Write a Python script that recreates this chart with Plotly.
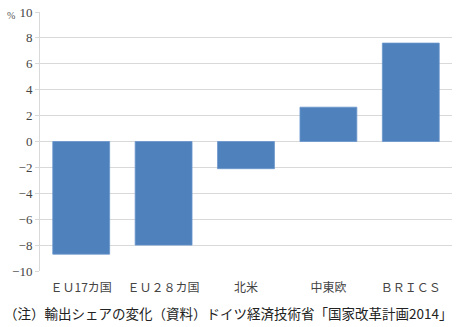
import plotly.graph_objects as go

categories = ["ＥＵ17カ国", "ＥＵ２８カ国", "北米", "中東欧", "ＢＲＩＣＳ"]
values = [-8.7, -8.0, -2.1, 2.65, 7.6]
tick_vals = [-10, -8, -6, -4, -2, 0, 2, 4, 6, 8, 10]
tick_text = ["−10", "−8", "−6", "−4", "−2", "0", "2", "4", "6", "8", "10"]
caption = "（注）輸出シェアの変化（資料）ドイツ経済技術省「国家改革計画2014」"

font_family = "Liberation Serif, Noto Sans CJK JP, serif"

fig = go.Figure(go.Bar(
    x=categories, y=values,
    marker=dict(color="#4f81bd", line=dict(color="#6a95cc", width=0.8)),
    width=0.69,
))

fig.update_layout(
    width=457, height=327,
    margin=dict(l=40, r=5, t=8, b=56),
    paper_bgcolor="white", plot_bgcolor="white",
    showlegend=False,
    font=dict(family=font_family, size=12, color="#333333"),
    xaxis=dict(
        showgrid=False, showline=False, ticks="",
        tickfont=dict(family="Noto Sans CJK JP", size=12, color="#444444"),
        ticklabelstandoff=8,
        range=[-0.5, 4.5],
    ),
    yaxis=dict(
        range=[-10, 10], tickvals=tick_vals, ticktext=tick_text,
        showgrid=True, gridcolor="#d9d9d9", gridwidth=1,
        zeroline=True, zerolinecolor="#d9d9d9", zerolinewidth=1,
        showline=True, linecolor="#d9d9d9", linewidth=1,
        ticks="outside", ticklen=4, tickcolor="#d9d9d9",
        tickfont=dict(family="Liberation Serif", size=13, color="#444444"),
    ),
    annotations=[
        dict(text="%", xref="paper", yref="paper", x=-0.055, y=0.985,
             xanchor="right", yanchor="middle", showarrow=False,
             font=dict(family="Liberation Serif", size=10, color="#555555")),
        dict(text=caption, xref="paper", yref="paper", x=-0.093, y=-0.115,
             xanchor="left", yanchor="top", showarrow=False,
             font=dict(family="Noto Sans CJK JP", size=13.5, color="#222222")),
    ],
)

fig.write_html("out.html")
